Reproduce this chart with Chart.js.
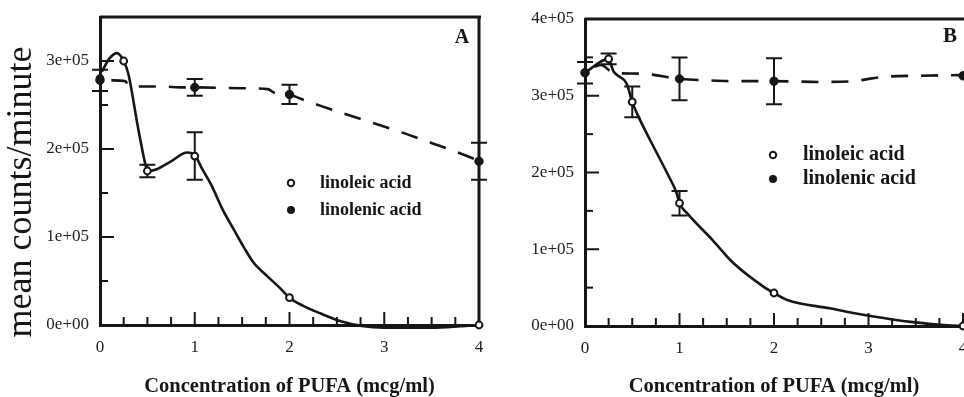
<!DOCTYPE html>
<html>
<head>
<meta charset="utf-8">
<script src="https://cdn.jsdelivr.net/npm/chart.js@4.4.1/dist/chart.umd.min.js"></script>
<style>
  html, body { margin: 0; padding: 0; background: #fff; overflow: hidden; width: 964px; height: 397px; }
  #wrap { position: relative; width: 964px; height: 397px; overflow: hidden; }
  canvas { position: absolute; top: 0; }
  #cA { left: 0; }
  #cB { left: 490px; }
</style>
</head>
<body>
<div id="wrap">
  <canvas id="cA" width="490" height="397"></canvas>
  <canvas id="cB" width="479" height="397"></canvas>
</div>
<script>
// ---------- Panel A ----------
const concLinoleicA   = [0, 0.25, 0.5, 1, 2, 4];
const linoleicA       = [280000, 300000, 175000, 192000, 31000, 0];
const linoleicErrA    = [0, 0, 7000, 27000, 0, 0];
const concLinolenicA  = [0, 1, 2, 4];
const linolenicA      = [278000, 270000, 262000, 186000];
const linolenicErrA   = [12000, 9500, 11000, 21000];
// fitted curves, panel A
const fitLinoleicXA  = [0.02, 0.1, 0.18, 0.25, 0.3, 0.4, 0.48, 0.5, 0.6, 0.75, 0.92, 1.0, 1.08, 1.17, 1.3, 1.41, 1.52, 1.62, 1.77, 1.89, 2.0, 2.14, 2.33, 2.55, 2.76, 3.0, 3.5, 3.8, 4.0];
const fitLinoleicYA  = [288000, 303000, 309000, 300000, 285000, 225000, 182000, 175000, 177000, 186000, 196000, 193000, 177000, 160000, 130000, 109000, 88000, 71000, 55000, 43000, 31000, 22000, 13000, 4000, -1000, -3000, -3000, -1500, 0];
const fitLinolenicXA = [0.12, 0.27, 0.3, 0.5, 0.67, 0.85, 1.0, 1.5, 1.77, 1.84, 2.0, 2.12, 2.33, 2.58, 2.9, 3.18, 3.39, 3.68, 3.92, 4.0];
const fitLinolenicYA = [278000, 277000, 272000, 271000, 271000, 270000, 270000, 269000, 268000, 264000, 262000, 257000, 249000, 240000, 229000, 219000, 211000, 200000, 190000, 186000];
const yTicksA  = [0, 100000, 200000, 300000];
const yLabelsA = ['0e+00', '1e+05', '2e+05', '3e+05'];

// ---------- Panel B ----------
const concLinoleicB   = [0, 0.25, 0.5, 1, 2, 4];
const linoleicB       = [330000, 348000, 292000, 160000, 43000, 0];
const linoleicErrB    = [0, 7000, 20000, 16000, 0, 0];
const concLinolenicB  = [0, 1, 2, 4];
const linolenicB      = [330000, 322000, 319000, 326000];
const linolenicErrB   = [14000, 28000, 30000, 0];
// fitted curves, panel B
const fitLinoleicXB  = [0.0, 0.25, 0.3, 0.35, 0.44, 0.5, 0.55, 0.69, 0.87, 0.97, 1.0, 1.08, 1.35, 1.57, 1.88, 2.0, 2.14, 2.59, 3.02, 3.47, 3.83, 4.0];
const fitLinoleicYB  = [330000, 348000, 332000, 326000, 316000, 292000, 277000, 242000, 199000, 173000, 160000, 147000, 112000, 82000, 52000, 43000, 34000, 23000, 13000, 5000, 1000, 0];
const fitLinolenicXB = [0.1, 0.17, 0.3, 0.5, 0.67, 1.0, 1.3, 1.6, 2.0, 2.5, 2.85, 3.0, 3.2, 3.5, 4.0];
const fitLinolenicYB = [338000, 340000, 330000, 329000, 328000, 322000, 320000, 319000, 319000, 318000, 319000, 322000, 325000, 326000, 327000];
const yTicksB  = [0, 100000, 200000, 300000, 400000];
const yLabelsB = ['0e+00', '1e+05', '2e+05', '3e+05', '4e+05'];

// shared axis
const xTicks  = [0, 1, 2, 3, 4];
const xLabels = ['0', '1', '2', '3', '4'];
const seriesNames = ['linoleic acid', 'linolenic acid'];
const xTitle = 'Concentration of PUFA (mcg/ml)';
const yTitle = 'mean counts/minute';

const INK = '#161616';
const SERIF = '"Liberation Serif", "Times New Roman", serif';

const pts = (xs, ys) => xs.map((x, i) => ({ x, y: ys[i] }));

// error bars, frame, inward ticks, legend and labels
const panelDecor = {
  id: 'panelDecor',
  beforeDatasetsDraw(chart, args, o) {
    const { ctx, chartArea: a } = chart;
    const xs = chart.scales.x, ys = chart.scales.y;
    ctx.save();
    ctx.strokeStyle = INK;
    ctx.lineCap = 'butt';
    // top (and optionally right) frame
    ctx.lineWidth = 3;
    ctx.beginPath();
    ctx.moveTo(a.left, a.top); ctx.lineTo(a.right + 2, a.top);
    if (o.rightFrame) { ctx.moveTo(a.right, a.top); ctx.lineTo(a.right, a.bottom); }
    ctx.stroke();
    // inward ticks on x axis (quarter steps)
    ctx.lineWidth = 2;
    for (let i = 1; i <= 16; i++) {
      const v = i * 0.25;
      const px = xs.getPixelForValue(v);
      const len = (i % 4 === 0) ? 13 : 8;
      ctx.beginPath(); ctx.moveTo(px, a.bottom); ctx.lineTo(px, a.bottom - len); ctx.stroke();
    }
    // inward ticks on y axis (half steps)
    for (let i = 1; i * 50000 <= o.yMax; i++) {
      const v = i * 50000;
      const py = ys.getPixelForValue(v);
      const len = (i % 2 === 0) ? 14 : 8;
      ctx.beginPath(); ctx.moveTo(a.left, py); ctx.lineTo(a.left + len, py); ctx.stroke();
    }
    // error bars
    ctx.lineWidth = 2;
    o.errors.forEach(s => {
      s.x.forEach((xv, i) => {
        const e = s.err[i];
        if (!e) return;
        const px = xs.getPixelForValue(xv);
        const pt = ys.getPixelForValue(s.y[i] + e);
        const pb = ys.getPixelForValue(s.y[i] - e);
        ctx.beginPath();
        ctx.moveTo(px, pt); ctx.lineTo(px, pb);
        ctx.moveTo(px - 8, pt); ctx.lineTo(px + 8, pt);
        ctx.moveTo(px - 8, pb); ctx.lineTo(px + 8, pb);
        ctx.stroke();
      });
    });
    ctx.restore();
  },
  afterDraw(chart, args, o) {
    const { ctx } = chart;
    ctx.save();
    ctx.fillStyle = INK;
    ctx.strokeStyle = INK;
    // panel letter
    ctx.font = 'bold ' + o.letterSize + 'px ' + SERIF;
    ctx.textAlign = 'center';
    ctx.textBaseline = 'middle';
    ctx.fillText(o.letter, o.letterX, o.letterY);
    // legend
    ctx.font = 'bold ' + o.legendSize + 'px ' + SERIF;
    ctx.textAlign = 'left';
    seriesNames.forEach((name, i) => {
      const y = o.legendY + i * o.legendGap;
      ctx.beginPath();
      ctx.arc(o.legendX, y, i === 0 ? 3.2 : 4, 0, Math.PI * 2);
      if (i === 0) { ctx.lineWidth = 2; ctx.fillStyle = '#fff'; ctx.fill(); ctx.stroke(); ctx.fillStyle = INK; }
      else { ctx.fill(); }
      ctx.fillText(name, o.legendX + o.legendTextGap, y);
    });
    // vertical axis title
    if (o.showYTitle) {
      ctx.font = '36px ' + SERIF;
      ctx.textAlign = 'center';
      ctx.textBaseline = 'middle';
      ctx.translate(22, 192);
      ctx.rotate(-Math.PI / 2);
      ctx.fillText(yTitle, 0, 0);
    }
    ctx.restore();
  }
};

function makePanel(canvasId, d) {
  return new Chart(document.getElementById(canvasId), {
    type: 'scatter',
    data: {
      datasets: [
        { data: pts(d.concLn, d.ln), pointStyle: 'circle', pointRadius: 4.2, pointBackgroundColor: INK,
          pointBorderColor: INK, pointBorderWidth: 1, showLine: false, clip: false },
        { data: pts(d.concLo, d.lo), pointStyle: 'circle', pointRadius: 3.4, pointBackgroundColor: '#fff',
          pointBorderColor: INK, pointBorderWidth: 2, showLine: false, clip: false },
        { data: pts(d.fitLoX, d.fitLoY), showLine: true, pointRadius: 0, borderColor: INK, borderWidth: 2.6,
          cubicInterpolationMode: 'monotone', clip: false },
        { data: pts(d.fitLnX, d.fitLnY), showLine: true, pointRadius: 0, borderColor: INK, borderWidth: 2.6,
          borderDash: [17, 13], cubicInterpolationMode: 'monotone', clip: false }
      ]
    },
    options: {
      responsive: false,
      animation: false,
      devicePixelRatio: 1,
      layout: { padding: { top: d.padTop, right: d.padRight, left: 0, bottom: 0 } },
      plugins: {
        legend: { display: false },
        tooltip: { enabled: false },
        panelDecor: d.decor
      },
      scales: {
        x: {
          type: 'linear', min: 0, max: 4,
          afterFit: s => { s.height = d.xAxisH; s.paddingLeft = 0; s.paddingRight = 0; },
          afterBuildTicks: s => { s.ticks = xTicks.map(v => ({ value: v })); },
          grid: { display: false, drawTicks: false },
          border: { display: true, color: INK, width: 3 },
          ticks: { color: '#222', padding: 12, font: { family: SERIF, size: 17 },
                   callback: (v) => xLabels[xTicks.indexOf(v)] },
          title: { display: true, text: xTitle, color: INK, padding: 0,
                   font: { family: SERIF, size: 20.5, weight: 'bold', lineHeight: 1 } }
        },
        y: {
          type: 'linear', min: 0, max: d.yMax,
          afterFit: s => { s.width = d.yAxisW; s.paddingTop = 0; s.paddingBottom = 0; },
          afterBuildTicks: s => { s.ticks = d.yTicks.map(v => ({ value: v })); },
          grid: { display: false, drawTicks: false },
          border: { display: true, color: INK, width: 3 },
          ticks: { color: '#222', padding: 11, font: { family: SERIF, size: 17 },
                   callback: (v) => d.yLabels[d.yTicks.indexOf(v)] }
        }
      }
    },
    plugins: [panelDecor]
  });
}

makePanel('cA', {
  concLo: concLinoleicA, lo: linoleicA, concLn: concLinolenicA, ln: linolenicA,
  fitLoX: fitLinoleicXA, fitLoY: fitLinoleicYA, fitLnX: fitLinolenicXA, fitLnY: fitLinolenicYA,
  yMax: 350000, yTicks: yTicksA, yLabels: yLabelsA,
  padTop: 17, padRight: 11, yAxisW: 100, xAxisH: 72,
  decor: {
    yMax: 350000, rightFrame: true,
    errors: [
      { x: concLinoleicA, y: linoleicA, err: linoleicErrA },
      { x: concLinolenicA, y: linolenicA, err: linolenicErrA }
    ],
    letter: 'A', letterX: 462, letterY: 38, letterSize: 20,
    legendX: 291, legendY: 183, legendGap: 27, legendTextGap: 29, legendSize: 18,
    showYTitle: true
  }
});

makePanel('cB', {
  concLo: concLinoleicB, lo: linoleicB, concLn: concLinolenicB, ln: linolenicB,
  fitLoX: fitLinoleicXB, fitLoY: fitLinoleicYB, fitLnX: fitLinolenicXB, fitLnY: fitLinolenicYB,
  yMax: 400000, yTicks: yTicksB, yLabels: yLabelsB,
  padTop: 19, padRight: 1, yAxisW: 95, xAxisH: 71,
  decor: {
    yMax: 400000, rightFrame: false,
    errors: [
      { x: concLinoleicB, y: linoleicB, err: linoleicErrB },
      { x: concLinolenicB, y: linolenicB, err: linolenicErrB }
    ],
    letter: 'B', letterX: 460, letterY: 37, letterSize: 21,
    legendX: 283, legendY: 155, legendGap: 24, legendTextGap: 30, legendSize: 20,
    showYTitle: false
  }
});
</script>
</body>
</html>
